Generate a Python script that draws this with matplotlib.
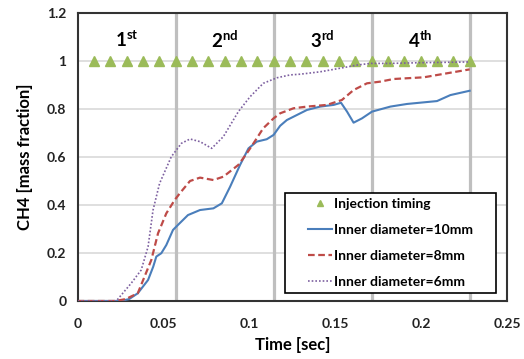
import numpy as np
import matplotlib
matplotlib.use('Agg')
import matplotlib.pyplot as plt
from matplotlib.patches import Rectangle

plt.rcParams['font.family'] = ['Lato', 'DejaVu Sans']
plt.rcParams['mathtext.fontset'] = 'custom'
plt.rcParams['mathtext.bf'] = 'Lato:bold'
plt.rcParams['mathtext.rm'] = 'Lato'

# Data
inj_t = [0.0095, 0.019, 0.0285, 0.038, 0.0475, 0.057, 0.0665, 0.076, 0.0855, 0.095,
         0.1045, 0.114, 0.1235, 0.133, 0.1425, 0.152, 0.1615, 0.171, 0.1805, 0.19,
         0.1995, 0.209, 0.2185, 0.228]
inj_y = [1.0] * len(inj_t)

section_ends = [0.057, 0.114, 0.171, 0.228]
section_mid = [0.0285, 0.0855, 0.1425, 0.1995]
section_labels = ['1', '2', '3', '4']
section_sup = ['st', 'nd', 'rd', 'th']

t10 = [0, 0.025, 0.03, 0.035, 0.041, 0.044, 0.0458, 0.0487, 0.0516, 0.0555, 0.0584,
       0.0642, 0.0712, 0.079, 0.0839, 0.0887, 0.0945, 0.0994, 0.1042, 0.110, 0.114,
       0.1178, 0.1217, 0.1256, 0.1334, 0.1411, 0.1489, 0.1532, 0.1567, 0.1605, 0.1654,
       0.1712, 0.1819, 0.1916, 0.209, 0.2168, 0.228]
y10 = [0, 0, 0.008, 0.032, 0.0875, 0.143, 0.185, 0.199, 0.233, 0.296, 0.317,
       0.358, 0.379, 0.386, 0.407, 0.476, 0.567, 0.636, 0.664, 0.674, 0.692,
       0.73, 0.754, 0.768, 0.796, 0.81, 0.817, 0.826, 0.789, 0.743, 0.761,
       0.789, 0.81, 0.821, 0.833, 0.858, 0.876]

t8 = [0, 0.022, 0.028, 0.035, 0.0429, 0.0468, 0.0516, 0.0565, 0.0596, 0.0654, 0.0712,
      0.079, 0.0848, 0.0935, 0.0984, 0.1023, 0.108, 0.114, 0.1178, 0.1256, 0.1334,
      0.145, 0.1537, 0.1605, 0.1683, 0.176, 0.1838, 0.2013, 0.215, 0.228]
y8 = [0, 0, 0.008, 0.032, 0.171, 0.282, 0.365, 0.421, 0.45, 0.5, 0.514,
      0.504, 0.518, 0.567, 0.615, 0.657, 0.72, 0.761, 0.782, 0.803, 0.81,
      0.817, 0.8375, 0.879, 0.907, 0.914, 0.925, 0.932, 0.949, 0.965]

t6 = [0, 0.0225, 0.0312, 0.037, 0.041, 0.0439, 0.0477, 0.0545, 0.0604, 0.0654, 0.0712,
      0.078, 0.0848, 0.0935, 0.1003, 0.108, 0.1159, 0.1236, 0.1295, 0.1411, 0.1528,
      0.1625, 0.1702, 0.1819, 0.2, 0.228]
y6 = [0, 0, 0.074, 0.129, 0.226, 0.379, 0.49, 0.601, 0.657, 0.675, 0.664,
      0.636, 0.685, 0.789, 0.851, 0.907, 0.93, 0.942, 0.945, 0.955, 0.97,
      0.983, 0.99, 0.99, 0.993, 0.996]

fig = plt.figure(figsize=(5.24, 3.59), dpi=100)
ax = fig.add_axes([0.148, 0.1616, 0.8205, 0.8022])

ax.set_xlim(0, 0.25)
ax.set_ylim(0, 1.2)
ax.set_yticks(np.arange(0, 1.21, 0.2))
ax.set_xticks(np.arange(0, 0.251, 0.05))
ax.yaxis.grid(True, color='#d9d9d9', linewidth=1.2)
ax.set_axisbelow(True)

for xe in section_ends:
    ax.axvline(xe, color='#bfbfbf', linewidth=2.3, zorder=1)

ax.plot(inj_t, inj_y, linestyle='none', marker='^', markersize=6.5,
        color='#9bbb59', label='Injection timing', zorder=3)
ax.plot(t10, y10, color='#4a7ebb', linewidth=1.5, label='Inner diameter=10mm', zorder=4)
ax.plot(t8, y8, color='#be4b48', linewidth=1.6, linestyle=(0, (3, 1.6)),
        label='Inner diameter=8mm', zorder=4)
ax.plot(t6, y6, color='#7d60a0', linewidth=1.2, linestyle=(0, (1, 1.2)),
        label='Inner diameter=6mm', zorder=4)

for xm, lab, sup in zip(section_mid, section_labels, section_sup):
    ax.text(xm, 1.09, r'$\mathbf{%s}^{\mathbf{%s}}$' % (lab, sup), ha='center',
            va='center', fontsize=13.5)

def fmt(v, _):
    return '%g' % round(v, 3)

ax.xaxis.set_major_formatter(plt.FuncFormatter(fmt))
ax.yaxis.set_major_formatter(plt.FuncFormatter(fmt))
ax.tick_params(length=0, labelsize=10, pad=8)
for lbl in ax.get_xticklabels() + ax.get_yticklabels():
    lbl.set_fontweight('bold')
    lbl.set_color('#222222')
ax.tick_params(axis='x', pad=12)

for s in ax.spines.values():
    s.set_color('#333333')
    s.set_linewidth(1.5)

ax.set_xlabel('Time [sec]', fontsize=12, fontweight='bold', labelpad=5)
ax.set_ylabel('CH4 [mass fraction]', fontsize=12, fontweight='bold', labelpad=10)

# legend box drawn separately so the entries sit centred inside it
box = Rectangle((0.482, 0.027), 0.491, 0.349, transform=ax.transAxes,
                facecolor='white', edgecolor='black', linewidth=1.2, zorder=5)
ax.add_patch(box)
leg = ax.legend(loc='center', bbox_to_anchor=(0.7275, 0.2015), frameon=False,
                handlelength=1.75, handletextpad=0.1, labelspacing=1.0,
                markerscale=0.7, prop={'weight': 'bold', 'size': 10})
leg.set_zorder(6)

fig.savefig('out.png', dpi=100)
